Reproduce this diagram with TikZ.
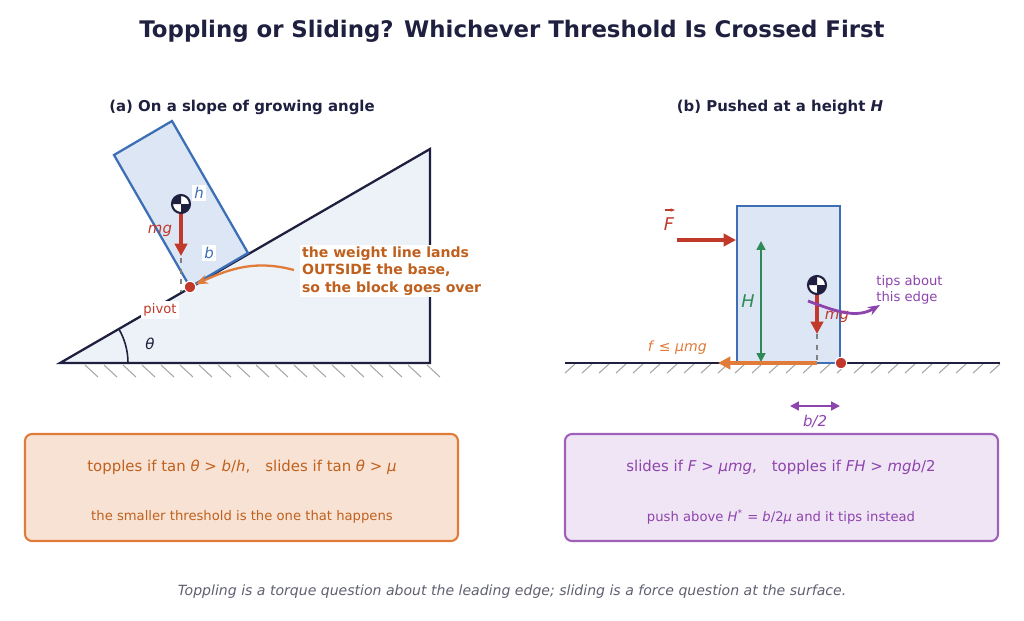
\documentclass[tikz,border=0pt]{standalone}
\usepackage{fontspec}
\setmainfont{DejaVu Sans}
\usetikzlibrary{arrows.meta}
\definecolor{navy}{HTML}{1F1F3F}
\definecolor{bblue}{HTML}{3D6FB6}
\definecolor{bfill}{HTML}{DCE6F5}
\definecolor{sfill}{HTML}{EDF1F8}
\definecolor{rred}{HTML}{C0392B}
\definecolor{oarr}{HTML}{E07B39}
\definecolor{otxt}{HTML}{C0601E}
\definecolor{ggreen}{HTML}{2E8B57}
\definecolor{ppur}{HTML}{8E44AD}
\definecolor{gtxt}{HTML}{5F6070}
\begin{document}
\begin{tikzpicture}[x=0.02cm,y=-0.02cm,
  hatch/.style={gray!70,line width=0.6pt},
  force/.style={rred,line width=2pt,-{Triangle[length=7pt,width=7pt]}},
  lbl/.style={font=\fontsize{8.5}{10}\selectfont\itshape},
  box/.style={rounded corners=4pt,line width=1.2pt},
  dot/.style={circle,fill=rred,draw=white,line width=0.6pt,inner sep=0pt,minimum size=6.5pt}]
\useasboundingbox (0,0) rectangle (1024,620);
\node[font=\fontsize{13}{15}\selectfont\bfseries,text=navy] (title) at (512,31) {Toppling or Sliding? Whichever Threshold Is Crossed First};
\node[font=\fontsize{8.5}{10}\selectfont\bfseries,text=navy] (ta) at (242,107) {(a) On a slope of growing angle};
\node[font=\fontsize{8.5}{10}\selectfont\bfseries,text=navy] (tb) at (780,107) {(b) Pushed at a height \textit{H}};
% (a)
\foreach \x in {85,104,...,430} \draw[hatch] (\x,365) -- (\x+13,377);
\draw[navy,line width=1.3pt,fill=sfill] (60,363) coordinate (o) -- (430,363) -- (430,149) -- cycle;
\draw[navy,line width=0.9pt] (128,363) arc[start angle=0,end angle=-30,radius=68];
\node[lbl,text=navy] (th) at (150,344) {θ};
\draw[bblue,line width=1.3pt,fill=bfill] (190,287) -- (248,253) -- (172,121) -- (114,155) -- cycle;
\draw[gray,dashed,line width=0.9pt] (181,258) -- (181,292);
\draw[force] (181,210) -- (181,256);
\fill[white] (181,204) circle (9);
\fill[navy] (181,204) -- +(9,0) arc[start angle=0,end angle=90,radius=9] -- cycle;
\fill[navy] (181,204) -- +(-9,0) arc[start angle=180,end angle=270,radius=9] -- cycle;
\draw[navy,line width=1.2pt] (181,204) circle (9) node (cga) {};
\node[lbl,text=bblue,fill=white,inner sep=1.5pt] (h) at (199,193) {h};
\node[lbl,text=bblue,fill=white,inner sep=1.5pt] (b) at (209,253) {b};
\node[lbl,text=rred] (mga) at (160,231) {mg};
\node[font=\fontsize{7.5}{9}\selectfont,text=rred,fill=white,inner sep=1.5pt] (piv) at (160,310) {pivot};
\node[dot] (pa) at (190,287) {};
\node[font=\fontsize{8}{10}\selectfont\bfseries,text=otxt,align=left,anchor=west,fill=white,inner sep=1pt] (note) at (300,271) {the weight line lands\\OUTSIDE the base,\\so the block goes over};
\draw[oarr,line width=1.3pt,-{Stealth[length=7pt]}] (294,270) to[out=165,in=25] (pa);
% (b)
\foreach \x in {565,582,...,1000} \draw[hatch] (\x,373) -- (\x+10,364);
\draw[navy,line width=1.5pt] (565,363) -- (1000,363);
\draw[bblue,line width=1.6pt,fill=bfill] (737,206) rectangle (840,363);
\draw[gray,dashed,line width=0.9pt] (817,334) -- (817,363);
\draw[force] (817,292) -- (817,334);
\fill[white] (817,285) circle (9);
\fill[navy] (817,285) -- +(9,0) arc[start angle=0,end angle=90,radius=9] -- cycle;
\fill[navy] (817,285) -- +(-9,0) arc[start angle=180,end angle=270,radius=9] -- cycle;
\draw[navy,line width=1.2pt] (817,285) circle (9) node (cgb) {};
\node[lbl,text=rred] (mgb) at (837,317) {mg};
\draw[force,line width=2.2pt] (677,240) -- (736,240);
\node[font=\fontsize{10}{12}\selectfont\itshape,text=rred,inner sep=1pt] (F) at (669,224) {F};
\draw[rred,line width=0.6pt,-{Stealth[length=2.5pt]}] (665,210) -- (675,210);
\draw[ggreen,line width=1pt,{Triangle[length=5pt,width=5pt]}-{Triangle[length=5pt,width=5pt]}] (761,241) -- (761,362);
\node[lbl,text=ggreen,font=\fontsize{10}{12}\selectfont\itshape] (H) at (748,301) {H};
\draw[oarr,line width=2pt,-{Triangle[length=7pt,width=7pt]}] (817,363) -- (718,363);
\node[font=\fontsize{8}{10}\selectfont,text=oarr,anchor=east] (fl) at (713,348) {\textit{f} ≤ \textit{μmg}};
\node[dot] (pb) at (841,363) {};
\draw[ppur,line width=1.6pt,-{Stealth[length=7pt]}] (808,301) to[out=-20,in=-150] (880,305);
\node[font=\fontsize{7.5}{9}\selectfont,text=ppur,align=left,anchor=west,inner sep=0pt] (tips) at (876,290) {tips about\\this edge};
\draw[ppur,line width=1pt,{Triangle[length=5pt,width=5pt]}-{Triangle[length=5pt,width=5pt]}] (790,406) -- (840,406);
\node[lbl,text=ppur] (b2) at (815,422) {b/2};
% boxes
\draw[box,draw=oarr,fill=oarr!22] (25,434) rectangle (458,541);
\node[font=\fontsize{8.5}{10}\selectfont,text=otxt] (a1) at (242,467) {topples if tan \textit{θ} > \textit{b}/\textit{h},\quad slides if tan \textit{θ} > \textit{μ}};
\node[font=\fontsize{7.5}{9}\selectfont,text=otxt] (a2) at (242,517) {the smaller threshold is the one that happens};
\draw[box,draw=ppur!85,fill=ppur!14] (565,434) rectangle (998,541);
\node[font=\fontsize{8.5}{10}\selectfont,text=ppur] (b1) at (781,467) {slides if \textit{F} > \textit{μmg},\quad topples if \textit{FH} > \textit{mgb}/2};
\node[font=\fontsize{7.5}{9}\selectfont,text=ppur] (b2t) at (781,517) {push above \textit{H}\textsuperscript{*} = \textit{b}/2\textit{μ} and it tips instead};
\node[font=\fontsize{8}{10}\selectfont\itshape,text=gtxt] (foot) at (512,592) {Toppling is a torque question about the leading edge; sliding is a force question at the surface.};
\end{tikzpicture}
\end{document}
